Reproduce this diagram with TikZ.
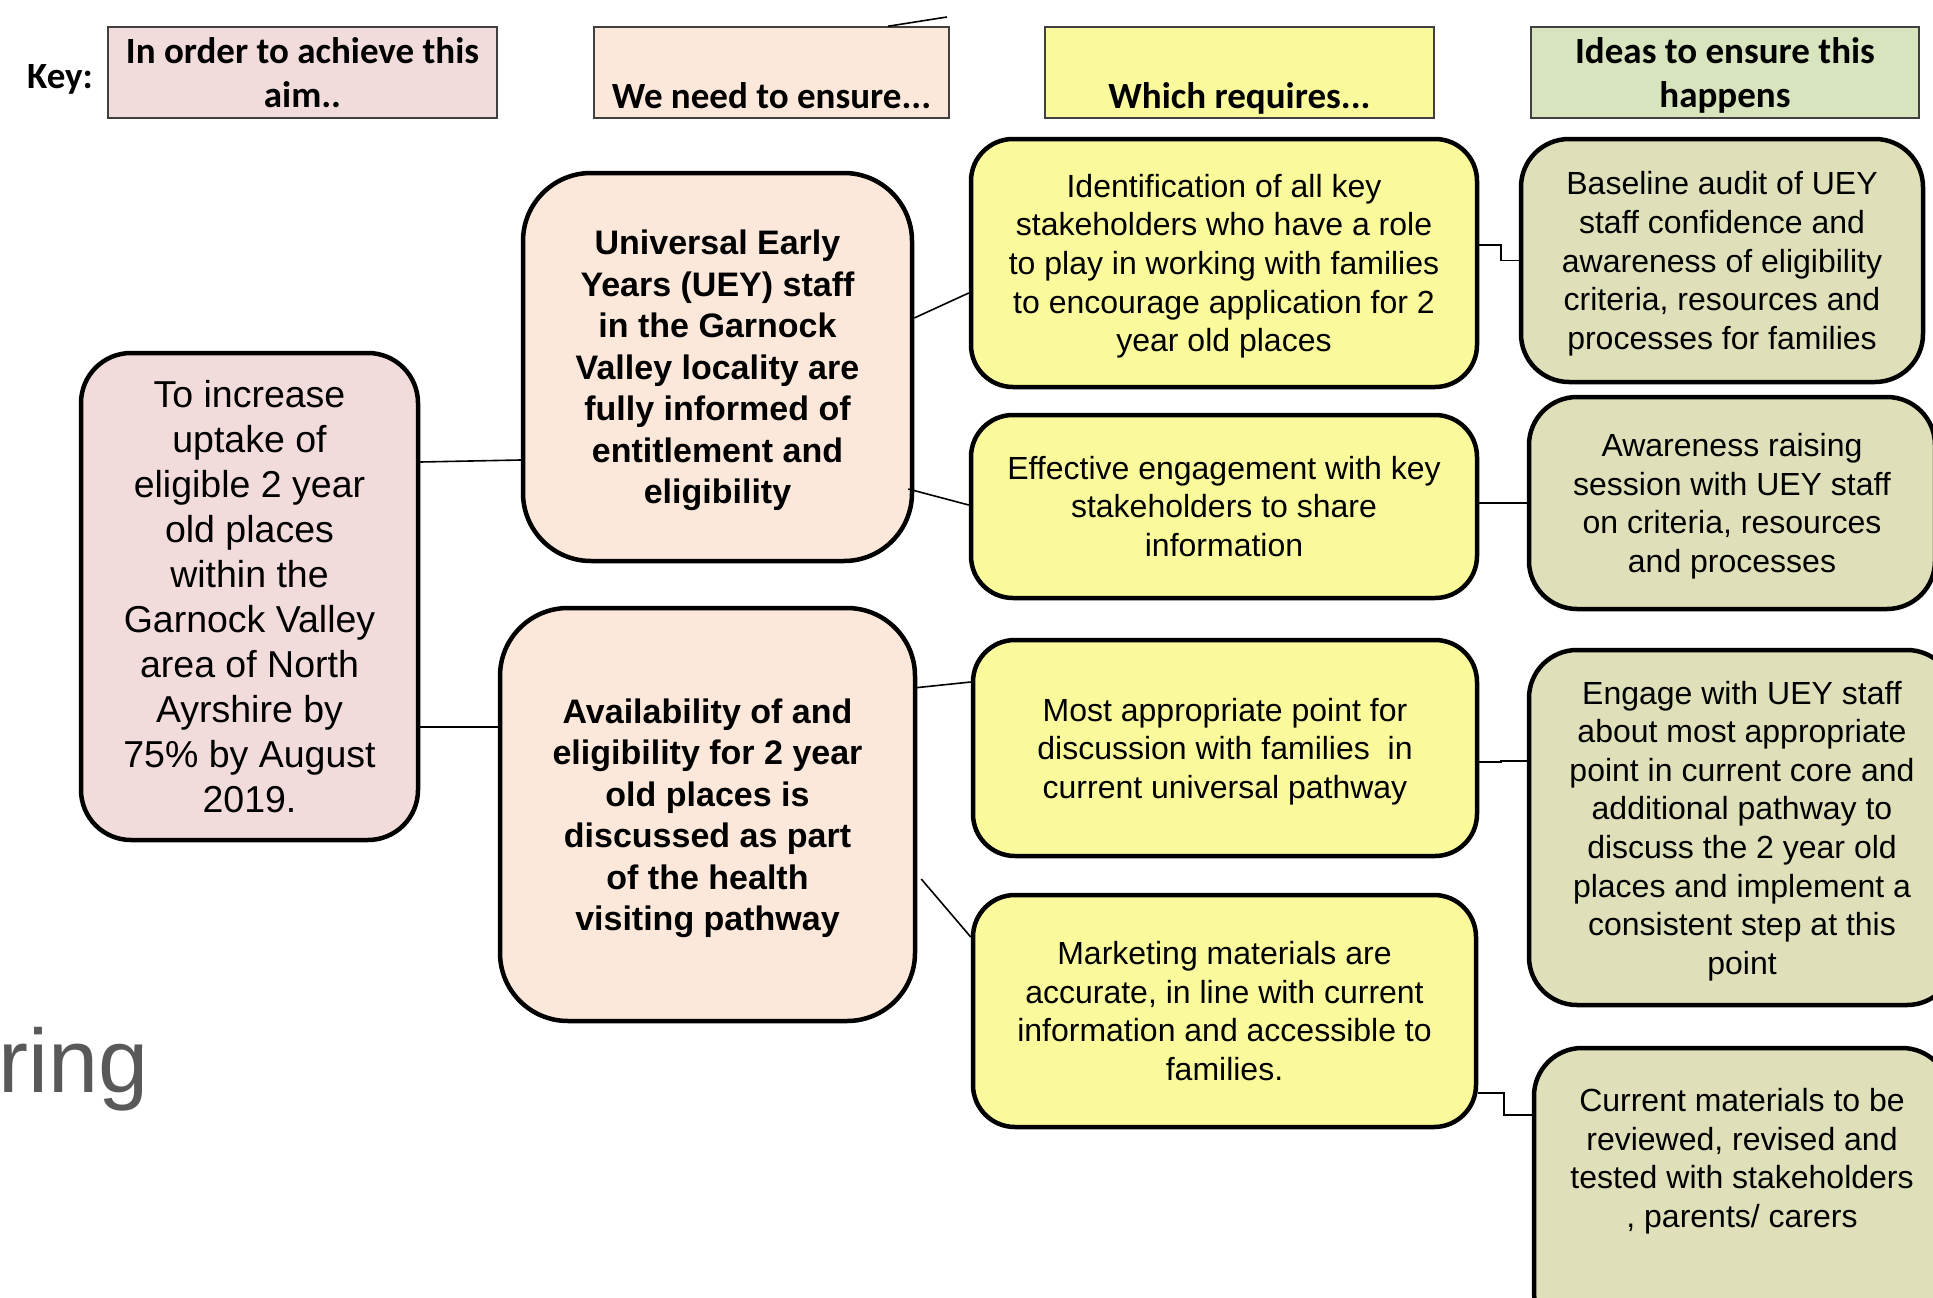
\documentclass[tikz,border=0pt]{standalone}
\usepackage{fontspec}
\setmainfont{Liberation Sans}
\newfontfamily\calibri{Carlito}
\definecolor{aimpink}{HTML}{F2DCDB}
\definecolor{peach}{HTML}{FCE8DA}
\definecolor{yel}{HTML}{FAFA9C}
\definecolor{olive}{HTML}{DFE0B9}
\definecolor{keygreen}{HTML}{D7E4BD}
\definecolor{ringgray}{HTML}{595959}
\newcommand\zdepth[1]{\raisebox{0pt}[\height][0pt]{#1}}
\tikzset{
  keybox/.style={draw=black!75, line width=1.5pt, minimum width=389pt, minimum height=91pt, inner sep=0pt, align=center,
    font=\calibri\bfseries\fontsize{37}{44}\selectfont},
  rbox/.style={draw=black, line width=4.5pt, inner sep=0pt, align=center},
  aimstyle/.style={rbox, fill=aimpink, rounded corners=50pt, font=\fontsize{37.5}{45}\selectfont},
  ensure/.style={rbox, fill=peach, rounded corners=68pt, font=\bfseries\fontsize{34}{41.5}\selectfont},
  req/.style={rbox, fill=yel, rounded corners=42pt, font=\fontsize{32}{38.6}\selectfont},
  idea/.style={rbox, fill=olive, rounded corners=48pt, font=\fontsize{32}{38.6}\selectfont},
  conn/.style={draw=black, line width=1.6pt},
}
\begin{document}
\begin{tikzpicture}[x=1pt,y=-1pt]
\useasboundingbox (0,0) rectangle (1933,1298);
\clip (0,0) rectangle (1933,1298);
\fill[white] (0,0) rectangle (1933,1298);

% Key
\node[font=\calibri\bfseries\fontsize{37}{44}\selectfont, anchor=center] (keylbl) at (60,79) {Key:};
\node[keybox, fill=aimpink] (k1) at (302.5,72.5) {In order to achieve this\\aim..};
\node[keybox, fill=peach, minimum width=355pt] (k2) at (771.5,72.5) {\rule{0pt}{28pt}\\We need to ensure...};
\node[keybox, fill=yel] (k3) at (1239.5,72.5) {\rule{0pt}{28pt}\\\zdepth{Which requires...}};
\node[keybox, fill=keygreen, minimum width=388pt] (k4) at (1725,72.5) {Ideas to ensure this\\\zdepth{happens}};
\coordinate (stray) at (947,17);
\draw[conn] ([xshift=116.5pt]k2.north) -- (stray);

% Aim
\node[aimstyle, minimum width=337pt, minimum height=487pt] (aim) at (249.5,596.5)
 {To increase\\uptake of\\eligible 2 year\\old places\\within the\\Garnock Valley\\area of North\\Ayrshire by\\75\% by August\\2019.};

% Ensure
\node[ensure, minimum width=389pt, minimum height=388pt] (uey) at (717.5,367)
 {Universal Early\\Years (UEY) staff\\in the Garnock\\Valley locality are\\fully informed of\\entitlement and\\\zdepth{eligibility}};
\node[ensure, minimum width=415pt, minimum height=413pt] (avail) at (707.5,814.5)
 {Availability of and\\eligibility for 2 year\\old places is\\discussed as part\\of the health\\\zdepth{visiting pathway}};

% Requires
\node[req, minimum width=506pt, minimum height=248pt] (y1) at (1224,263)
 {Identification of all key\\stakeholders who have a role\\to play in working with families\\to encourage application for 2\\\zdepth{year old places}};
\node[req, minimum width=506pt, minimum height=183pt] (y2) at (1224,506.5)
 {Effective engagement with key\\stakeholders to share\\information};
\node[req, minimum width=504pt, minimum height=216pt] (y3) at (1225,748)
 {Most appropriate point for\\discussion with families\ \ in\\\zdepth{current universal pathway}};
\node[req, minimum width=503pt, minimum height=232pt] (y4) at (1224.5,1011)
 {Marketing materials are\\accurate, in line with current\\information and accessible to\\families.};

% Ideas
\node[idea, minimum width=402pt, minimum height=243pt] (g1) at (1722,260.5)
 {Baseline audit of UEY\\staff confidence and\\awareness of eligibility\\criteria, resources and\\\zdepth{processes for families}};
\node[idea, minimum width=406pt, minimum height=212pt] (g2) at (1732,503)
 {Awareness raising\\session with UEY staff\\on criteria, resources\\\zdepth{and processes}};
\node[idea, minimum width=426pt, minimum height=355pt] (g3) at (1742,827.5)
 {Engage with UEY staff\\about most appropriate\\point in current core and\\additional pathway to\\discuss the 2 year old\\places and implement a\\consistent step at this\\\zdepth{point}};
\node[idea, minimum width=416pt, minimum height=292pt] (g4) at (1742,1194) {};
\node[align=center, inner sep=0pt, font=\fontsize{32}{38.6}\selectfont] (g4t) at (1742,1158)
 {Current materials to be\\reviewed, revised and\\tested with stakeholders\\\zdepth{, parents/ carers}};

% Connectors
\draw[conn] ([yshift=134.5pt]aim.east) -- ([yshift=-93pt]uey.west);
\draw[conn] ([yshift=-130.5pt]aim.east) -- ([yshift=87.5pt]avail.west);
\draw[conn] ([yshift=49pt]uey.east) -- ([yshift=-30pt]y1.west);
\draw[conn] ([yshift=-122pt,xshift=-6pt]uey.east) -- ([yshift=1.5pt]y2.west);
\draw[conn] ([yshift=126.5pt,xshift=-4pt]avail.east) -- ([yshift=66pt]y3.west);
\draw[conn] ([yshift=-64.5pt,xshift=4pt]avail.east) -- ([yshift=74pt]y4.west);
\draw[conn] ([yshift=18pt]y1.east) -- ++(22,0) |- (g1.west);
\draw[conn] (y2.east |- g2.west) -- (g2.west);
\draw[conn] ([yshift=-14pt]y3.east) -- ++(22,0) |- ([yshift=66.5pt]g3.west);
\draw[conn] ([yshift=-82pt]y4.east) -- ++(26,0) |- ([yshift=79pt]g4.west);

% stray text
\node[anchor=base west, inner sep=0pt, text=ringgray, font=\fontsize{90}{100}\selectfont] (ring) at (-2,1092) {ring};
\end{tikzpicture}
\end{document}
